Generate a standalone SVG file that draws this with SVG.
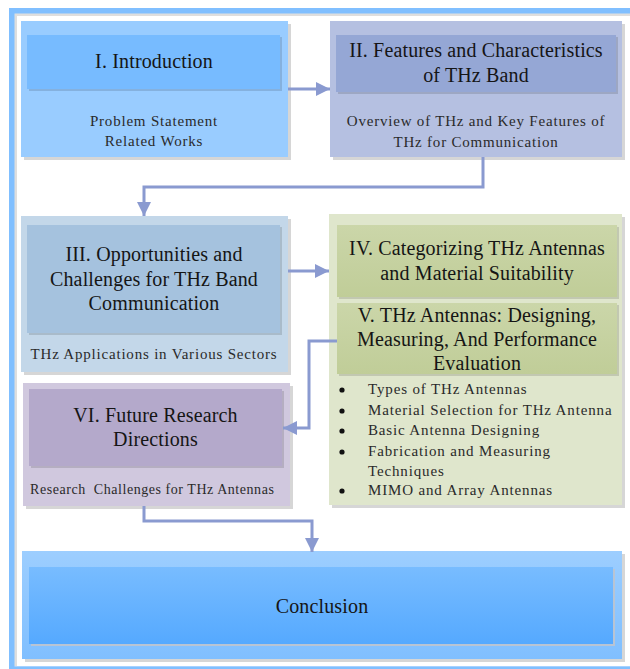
<svg xmlns="http://www.w3.org/2000/svg" width="630" height="669" viewBox="0 0 630 669">
<defs>
<style>
.t{font-family:"Liberation Serif","Times New Roman",serif;font-size:20px;fill:#151515;text-anchor:middle;letter-spacing:0.15px}
.s{font-family:"Liberation Serif","Times New Roman",serif;font-size:15px;fill:#2a2a2a;text-anchor:middle;letter-spacing:0.8px}
.b{font-family:"Liberation Serif","Times New Roman",serif;font-size:15px;fill:#2a2a2a;letter-spacing:0.85px}
.sh{fill:#d6d6d6}
.ish{fill:#000;fill-opacity:0.13}
.con{fill:none;stroke:#8a9ad0;stroke-width:3;marker-end:url(#ah)}
</style>
<marker id="ah" markerUnits="userSpaceOnUse" markerWidth="14" markerHeight="14" refX="14" refY="7" orient="auto">
<path d="M0,0 L14,7 L0,14 z" fill="#8a9ad0"/>
</marker>
<linearGradient id="cOut" x1="0" y1="0" x2="0" y2="1">
<stop offset="0" stop-color="#9dceff"/><stop offset="1" stop-color="#80bfff"/>
</linearGradient>
<linearGradient id="cIn" x1="0" y1="0" x2="0" y2="1">
<stop offset="0" stop-color="#78bcff"/><stop offset="1" stop-color="#55a9ff"/>
</linearGradient>
<linearGradient id="gIn" x1="0" y1="0" x2="0" y2="1">
<stop offset="0" stop-color="#cbd6a9"/><stop offset="1" stop-color="#c0cd98"/>
</linearGradient>
</defs>
<rect width="630" height="669" fill="#ffffff"/>
<g id="frame">
<rect x="15" y="13" width="615" height="3" fill="#dedede"/>
<rect x="14" y="13" width="3" height="653" fill="#dedede"/>
<rect x="9" y="8" width="621" height="5.5" fill="#80bfff"/>
<rect x="9" y="8" width="5.5" height="661" fill="#80bfff"/>
<rect x="9" y="666.3" width="621" height="2.7" fill="#80bfff"/>
</g>
<g id="intro">
<rect x="24" y="24" width="267" height="136" class="sh"/>
<rect x="21" y="21" width="267" height="136" fill="#99ccff"/>
<rect x="29" y="37" width="253" height="54" class="ish"/>
<rect x="27" y="35" width="253" height="54" fill="#77bbff"/>
<text class="t" x="154" y="68">I. Introduction</text>
<text class="s" x="154" y="126">Problem Statement</text>
<text class="s" x="154" y="146">Related Works</text>
</g>
<g id="features">
<rect x="333" y="24" width="292" height="136" class="sh"/>
<rect x="330" y="21" width="292" height="136" fill="#b5c0e1"/>
<rect x="338" y="37" width="280" height="57" class="ish"/>
<rect x="336" y="35" width="280" height="57" fill="#95a7d5"/>
<text class="t" x="476" y="57">II. Features and Characteristics</text>
<text class="t" x="476" y="82">of THz Band</text>
<text class="s" x="476" y="126">Overview of THz and Key Features of</text>
<text class="s" x="476" y="147">THz for Communication</text>
</g>
<g id="opportunities">
<rect x="24" y="219" width="267" height="156" class="sh"/>
<rect x="21" y="216" width="267" height="156" fill="#c3d7e9"/>
<rect x="29" y="227" width="253" height="108" class="ish"/>
<rect x="27" y="225" width="253" height="108" fill="#a5c2de"/>
<text class="t" x="154" y="261">III. Opportunities and</text>
<text class="t" x="154" y="286">Challenges for THz Band</text>
<text class="t" x="154" y="310">Communication</text>
<text class="s" x="154" y="359">THz Applications in Various Sectors</text>
</g>
<g id="antennas">
<rect x="332" y="217" width="293" height="291" class="sh"/>
<rect x="329" y="214" width="293" height="291" fill="#dfe6cc"/>
<rect x="339" y="227" width="280" height="72" class="ish"/>
<rect x="337" y="225" width="280" height="72" fill="url(#gIn)"/>
<text class="t" x="477" y="255">IV. Categorizing THz Antennas</text>
<text class="t" x="477" y="280">and Material Suitability</text>
<rect x="339" y="305" width="280" height="71" class="ish"/>
<rect x="337" y="303" width="280" height="71" fill="url(#gIn)"/>
<text class="t" x="477" y="322">V. THz Antennas: Designing,</text>
<text class="t" x="477" y="346">Measuring, And Performance</text>
<text class="t" x="477" y="370">Evaluation</text>
<g fill="#111">
<circle cx="342" cy="390" r="2.6"/>
<circle cx="342" cy="411" r="2.6"/>
<circle cx="342" cy="431" r="2.6"/>
<circle cx="342" cy="452" r="2.6"/>
<circle cx="342" cy="491" r="2.6"/>
</g>
<text class="b" x="368" y="394">Types of THz Antennas</text>
<text class="b" x="368" y="415">Material Selection for THz Antenna</text>
<text class="b" x="368" y="435">Basic Antenna Designing</text>
<text class="b" x="368" y="456">Fabrication and Measuring</text>
<text class="b" x="368" y="476">Techniques</text>
<text class="b" x="368" y="495">MIMO and Array Antennas</text>
</g>
<g id="future">
<rect x="26" y="386" width="267" height="123" class="sh"/>
<rect x="23" y="383" width="267" height="123" fill="#d0c8de"/>
<rect x="31" y="391" width="253" height="77" class="ish"/>
<rect x="29" y="389" width="253" height="77" fill="#b4a9cb"/>
<text class="t" x="155.5" y="422">VI. Future Research</text>
<text class="t" x="155.5" y="446">Directions</text>
<text class="b" x="30" y="494" xml:space="preserve" style="font-size:14px;letter-spacing:0.55px">Research  Challenges for THz Antennas</text>
</g>
<g id="conclusion">
<rect x="25" y="554" width="600" height="108" class="sh"/>
<rect x="22" y="551" width="600" height="108" fill="url(#cOut)"/>
<rect x="31" y="569" width="584" height="77" fill="#b8c4d4"/>
<rect x="29" y="567" width="584" height="77" fill="url(#cIn)"/>
<text class="t" x="322" y="613">Conclusion</text>
</g>
<g id="connectors">
<path class="con" d="M288,89 H330"/>
<path class="con" d="M483,157 V187 H144 V216"/>
<path class="con" d="M288,271 H329"/>
<path class="con" d="M337,341 H309 V428 H283"/>
<path class="con" d="M144,506 V521 H312 V552"/>
</g>
</svg>
